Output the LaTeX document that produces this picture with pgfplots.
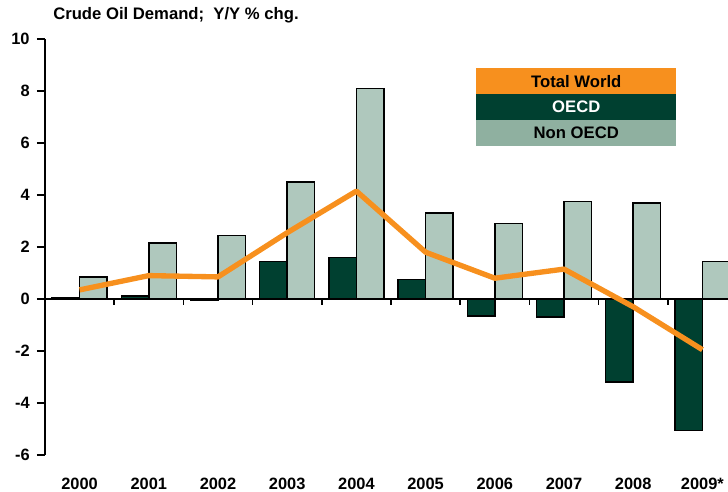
\documentclass[border=0pt]{standalone}
\usepackage{pgfplots}
\pgfplotsset{compat=1.18}
\usepackage{fontspec}
\setmainfont{Liberation Sans}
\definecolor{oecd}{HTML}{004030}
\definecolor{nonoecd}{HTML}{AFC8BD}
\definecolor{nonoecdleg}{HTML}{8FB0A0}
\definecolor{world}{HTML}{F7901E}
\pgfplotstableread{
x oecd non world
0 0.05 0.85 0.35
1 0.12 2.15 0.90
2 -0.05 2.45 0.85
3 1.45 4.50 2.55
4 1.60 8.10 4.15
5 0.75 3.30 1.80
6 -0.65 2.90 0.80
7 -0.70 3.75 1.15
8 -3.20 3.70 -0.30
9 -5.05 1.45 -1.95
}\datatable
\begin{document}
\begin{tikzpicture}
\path[use as bounding box] (0,0) rectangle (546pt,369pt);
\begin{axis}[
  name=ax,
  at={(33.75pt,27.75pt)}, anchor=south west,
  scale only axis,
  width=512.25pt, height=312pt,
  xmin=-0.5, xmax=9.37,
  ymin=-6, ymax=10,
  axis x line*=bottom,
  axis y line*=left,
  x axis line style={draw=none},
  y axis line style={-, line width=1.1pt},
  xtick={0,...,9},
  xticklabels={2000,2001,2002,2003,2004,2005,2006,2007,2008,2009*},
  x tick label style={yshift=-7.5pt},
  y tick label style={xshift=-2pt},
  ytick={-6,-4,...,10},
  tick style={black, line width=1.1pt},
  x tick style={draw=none},
  tick align=outside,
  major tick length=6pt,
  tick label style={font=\fontsize{12.3}{14}\selectfont\bfseries},
  /pgf/number format/assume math mode=true,
  ybar=0pt,
  bar width=20.6pt,
  clip=true,
]
\addplot[fill=oecd, draw=black, line width=1.1pt] table[x=x,y=oecd] {\datatable};
\addplot[fill=nonoecd, draw=black, line width=1.1pt] table[x=x,y=non] {\datatable};
\draw[line width=1.1pt] (axis cs:-0.5,0) -- (axis cs:9.6,0);
\pgfplotsinvokeforeach{0.5,1.5,2.5,3.5,4.5,5.5,6.5,7.5,8.5}{\draw[line width=1.1pt] (axis cs:#1,0) -- ([yshift=-4.5pt]axis cs:#1,0);}
\addplot[sharp plot, world, line width=4pt, line join=round, mark=none, bar shift=0pt] table[x=x,y=world] {\datatable};
\end{axis}
\begin{scope}[shift={(ax.south west)}, font=\fontsize{12.5}{14}\selectfont\bfseries]
\node[fill=world, minimum width=150pt, minimum height=19.5pt, inner sep=0pt, anchor=north west] at (323.25pt,290.25pt) {Total World};
\node[fill=oecd, text=white, minimum width=150pt, minimum height=19.5pt, inner sep=0pt, anchor=north west] at (323.25pt,270.75pt) {OECD};
\node[fill=nonoecdleg, minimum width=150pt, minimum height=19.5pt, inner sep=0pt, anchor=north west] at (323.25pt,251.25pt) {Non OECD};
\node[anchor=west, inner sep=0pt, font=\fontsize{12.5}{14}\selectfont\bfseries] at (6pt,330pt) {Crude Oil Demand;\ \ Y/Y \% chg.};
\end{scope}
\end{tikzpicture}
\end{document}
